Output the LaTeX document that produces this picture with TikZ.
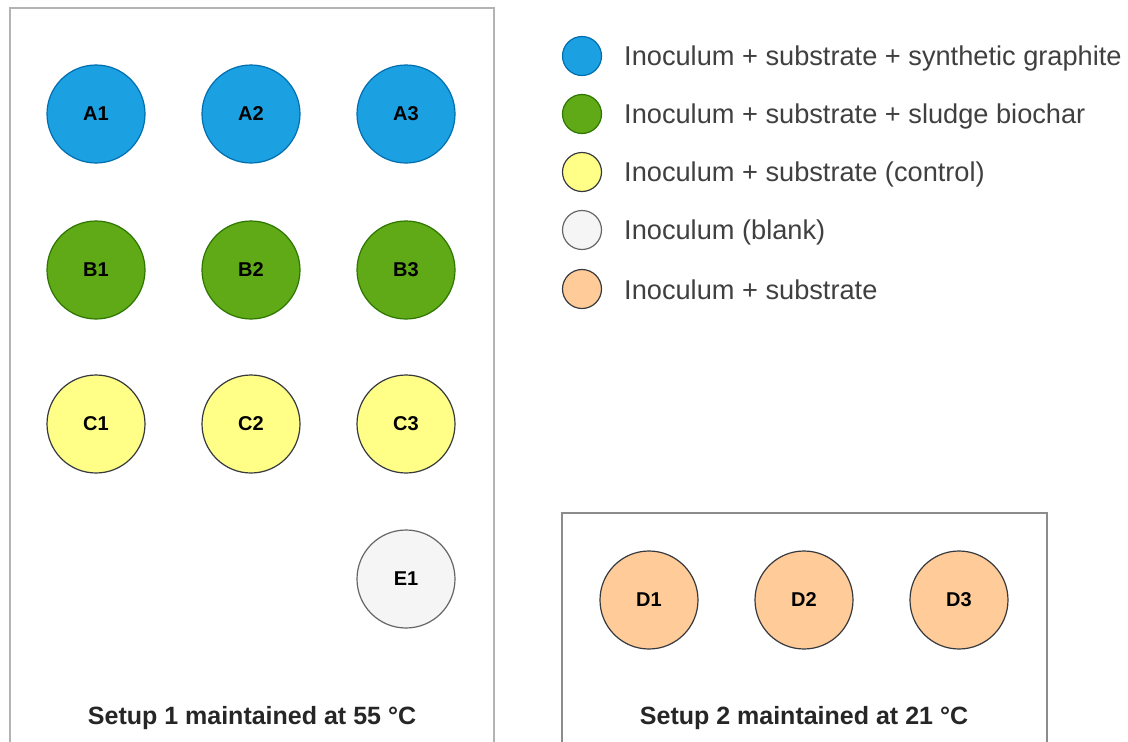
\documentclass[tikz,border=0pt]{standalone}
\usepackage{fontspec}
\setmainfont{Liberation Sans}
\definecolor{bluef}{HTML}{1BA1E2}\definecolor{blued}{HTML}{006EAF}
\definecolor{greenf}{HTML}{60A917}\definecolor{greend}{HTML}{2D7600}
\definecolor{yellowf}{HTML}{FFFF88}\definecolor{yellowd}{HTML}{36393D}
\definecolor{grayf}{HTML}{F5F5F5}\definecolor{grayd}{HTML}{666666}
\definecolor{orangef}{HTML}{FFCC99}\definecolor{oranged}{HTML}{36393D}
\definecolor{boxline}{HTML}{B3B3B3}
\definecolor{legtext}{HTML}{404040}
\tikzset{
  well/.style={circle, minimum size=98pt, inner sep=0pt, line width=1.2pt,
    font=\fontsize{20}{24}\selectfont\bfseries, text=black},
  legdot/.style={circle, minimum size=39pt, inner sep=0pt, line width=1.2pt},
  legtxt/.style={anchor=west, inner sep=0pt, text=legtext,
    font=\fontsize{27.2}{30}\selectfont},
  wA/.style={well, fill=bluef, draw=blued},
  wB/.style={well, fill=greenf, draw=greend},
  wC/.style={well, fill=yellowf, draw=yellowd},
  wE/.style={well, fill=grayf, draw=grayd},
  wD/.style={well, fill=orangef, draw=oranged},
  boxframe/.style={draw=boxline, line width=1.2pt},
  setuplabel/.style={font=\fontsize{25}{28}\selectfont\bfseries, text=black!85, inner sep=0pt}
}
\begin{document}
\begin{tikzpicture}[x=1pt,y=-1pt]
\useasboundingbox (0,0) rectangle (1128,742);
\fill[white] (0,0) rectangle (1128,742);
% frames
\coordinate (L1) at (10,745); \coordinate (L2) at (10,8);
\coordinate (L3) at (494,8); \coordinate (L4) at (494,745);
\draw[boxframe] (L1) -- (L2) -- (L3) -- (L4);
\coordinate (R1) at (562,745); \coordinate (R2) at (562,513);
\coordinate (R3) at (1047,513); \coordinate (R4) at (1047,745);
\draw[boxframe, draw=black!45] (R1) -- (R2) -- (R3) -- (R4);
% wells
\node[wA] (A1) at (96,114) {A1};
\node[wA] (A2) at (251,114) {A2};
\node[wA] (A3) at (406,114) {A3};
\node[wB] (B1) at (96,270) {B1};
\node[wB] (B2) at (251,270) {B2};
\node[wB] (B3) at (406,270) {B3};
\node[wC] (C1) at (96,424) {C1};
\node[wC] (C2) at (251,424) {C2};
\node[wC] (C3) at (406,424) {C3};
\node[wE] (E1) at (406,579) {E1};
\node[wD] (D1) at (649,600) {D1};
\node[wD] (D2) at (804,600) {D2};
\node[wD] (D3) at (959,600) {D3};
\node[setuplabel] (S1) at (252,718) {Setup 1 maintained at 55 °C};
\node[setuplabel] (S2) at (804,718) {Setup 2 maintained at 21 °C};
% legend
\node[legdot, fill=bluef, draw=blued] (k1) at (582,56) {};
\node[legdot, fill=greenf, draw=greend] (k2) at (582,114) {};
\node[legdot, fill=yellowf, draw=yellowd] (k3) at (582,172) {};
\node[legdot, fill=grayf, draw=grayd] (k4) at (582,230) {};
\node[legdot, fill=orangef, draw=oranged] (k5) at (582,289) {};
\node[legtxt] (t1) at (624,58) {Inoculum + substrate + synthetic graphite};
\node[legtxt] (t2) at (624,116) {Inoculum + substrate + sludge biochar};
\node[legtxt] (t3) at (624,174) {Inoculum + substrate (control)};
\node[legtxt] (t4) at (624,232) {Inoculum (blank)};
\node[legtxt] (t5) at (624,290) {Inoculum + substrate};
\end{tikzpicture}
\end{document}
